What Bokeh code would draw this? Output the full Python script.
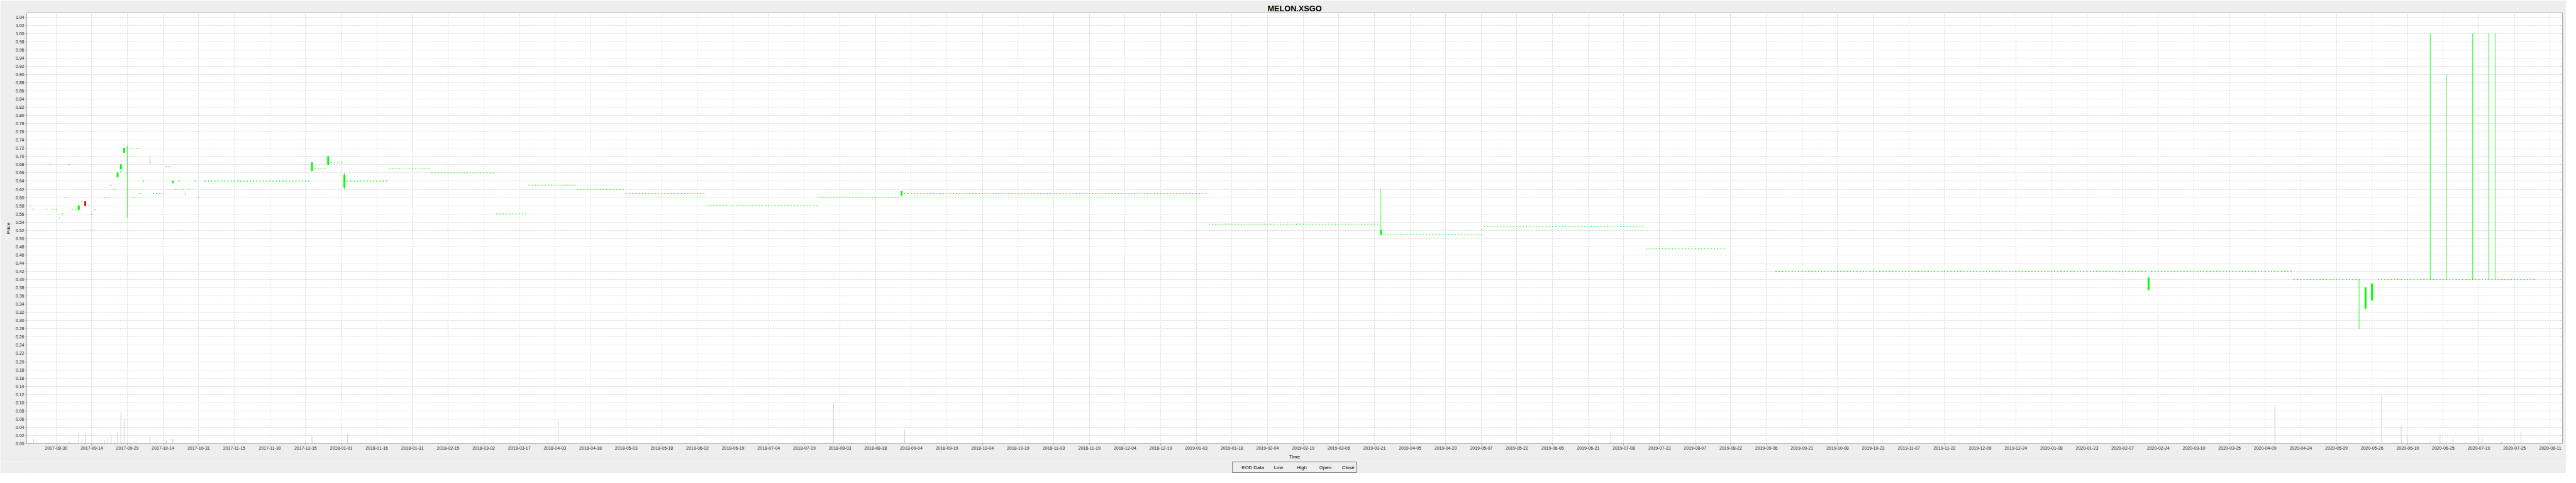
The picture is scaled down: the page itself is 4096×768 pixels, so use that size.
from bokeh.plotting import figure
from bokeh.layouts import column
from bokeh.models import Range1d, FixedTicker, PrintfTickFormatter, Legend, LegendItem, ColumnDataSource
from bokeh.embed import file_html
from bokeh.resources import INLINE

# ---------------- data (x = trading-day slot, tick k sits at slot 11*k) ----------------
tick_labels = ["2017-08-30","2017-09-14","2017-09-29","2017-10-14","2017-10-31","2017-11-15","2017-11-30","2017-12-15",
               "2018-01-01","2018-01-16","2018-01-31","2018-02-15","2018-03-02","2018-03-17","2018-04-03","2018-04-18",
               "2018-05-03","2018-05-18","2018-06-02","2018-06-19","2018-07-04","2018-07-19","2018-08-03","2018-08-18",
               "2018-09-04","2018-09-19","2018-10-04","2018-10-19","2018-11-03","2018-11-19","2018-12-04","2018-12-19",
               "2019-01-03","2019-01-18","2019-02-04","2019-02-19","2019-03-06","2019-03-21","2019-04-05","2019-04-20",
               "2019-05-07","2019-05-22","2019-06-06","2019-06-21","2019-07-08","2019-07-23","2019-08-07","2019-08-22",
               "2019-09-06","2019-09-21","2019-10-08","2019-10-23","2019-11-07","2019-11-22","2019-12-09","2019-12-24",
               "2020-01-08","2020-01-23","2020-02-07","2020-02-24","2020-03-10","2020-03-25","2020-04-09","2020-04-24",
               "2020-05-09","2020-05-26","2020-06-10","2020-06-25","2020-07-10","2020-07-25","2020-08-11"]

# single flat days (open = high = low = close)
dash_slot  = [-8, -7, -3, -2, -1, 0, 1, 2, 3, 4, 5, 6, 8, 10, 11, 12, 15, 16, 17, 18, 23, 24, 25, 26, 27,
              30, 31, 32, 33, 34, 35, 37, 38, 39, 40, 41, 43, 44, 46, 47, 48, 49, 50, 51]
dash_level = [0.58, 0.57, 0.57, 0.68, 0.57, 0.57, 0.55, 0.56, 0.60, 0.68, 0.57, 0.57, 0.59, 0.58, 0.56, 0.57,
              0.60, 0.60, 0.63, 0.62, 0.72, 0.60, 0.72, 0.61, 0.64, 0.61, 0.61, 0.61, 0.61, 0.675, 0.675,
              0.62, 0.64, 0.62, 0.61, 0.62, 0.64, 0.60, 0.64, 0.64, 0.64, 0.64, 0.64, 0.64]

# runs of flat days held at one level (start slot, end slot, level)
run_start = [52, 80, 85, 90, 103, 116, 136, 146, 161, 176, 201, 236, 262, 356, 410, 441, 491, 531, 647, 691, 717, 734, 739, 747, 752, 754]
run_end   = [78, 83, 88, 102, 115, 135, 145, 160, 175, 200, 235, 260, 355, 408, 440, 490, 515, 645, 690, 710, 732, 737, 745, 750, 752, 765]
run_level = [0.64, 0.67, 0.685, 0.64, 0.67, 0.66, 0.56, 0.63, 0.62, 0.61, 0.58, 0.60, 0.61, 0.535, 0.51, 0.53, 0.475, 0.42, 0.42, 0.40, 0.40, 0.40, 0.40, 0.40, 0.40, 0.40]

# candles with a body or a wick
c_slot  = [7, 9, 19, 20, 21, 22, 29, 36, 79, 84, 89, 261, 409, 646, 711, 713, 715, 733, 738, 746, 751, 753]
c_open  = [0.57, 0.59, 0.65, 0.67, 0.71, 0.72, 0.685, 0.636, 0.665, 0.68, 0.625, 0.605, 0.51, 0.375, 0.40, 0.33, 0.35, 0.40, 0.40, 0.40, 0.40, 0.40]
c_high  = [0.58, 0.59, 0.66, 0.68, 0.72, 0.7265, 0.70, 0.64, 0.685, 0.70, 0.66, 0.615, 0.62, 0.405, 0.40, 0.38, 0.39, 1.00, 0.90, 1.00, 1.00, 1.00]
c_low   = [0.57, 0.58, 0.65, 0.66, 0.71, 0.551, 0.685, 0.636, 0.665, 0.68, 0.62, 0.605, 0.51, 0.375, 0.28, 0.33, 0.35, 0.40, 0.40, 0.40, 0.40, 0.40]
c_close = [0.58, 0.58, 0.66, 0.68, 0.72, 0.72, 0.685, 0.64, 0.685, 0.70, 0.655, 0.615, 0.52, 0.405, 0.40, 0.38, 0.39, 0.40, 0.40, 0.40, 0.40, 0.40]

# volume bars (drawn on the price scale)
vol_slot  = [-8, -7, -2, 4, 7, 8, 9, 10, 15, 16, 17, 18, 19, 20, 21, 22, 23, 25, 29, 34, 35, 36,
             79, 90, 155, 240, 262, 480, 685, 718, 720, 724, 726, 727, 729, 733, 736, 738, 740, 744, 746, 748, 749, 751, 753, 755, 761]
vol_value = [0.0028, 0.0132, 0.0036, 0.0053, 0.0281, 0.0132, 0.026, 0.002, 0.0082, 0.0156, 0.021, 0.0046, 0.0274, 0.0761, 0.060, 0.0036, 0.0025, 0.0036, 0.0202, 0.0085, 0.0014, 0.0132,
             0.02, 0.025, 0.055, 0.10, 0.035, 0.03, 0.09, 0.12, 0.002, 0.0441, 0.0185, 0.0036, 0.0028, 0.0046, 0.026, 0.0046, 0.0124, 0.0046, 0.0014, 0.0174, 0.0132, 0.002, 0.0032, 0.0046, 0.0292]

legend_labels = ["EOD Data", "Low", "High", "Open", "Close"]

# ---------------- assemble candles ----------------
xs, o, h, l, c = [], [], [], [], []
taken = set(c_slot) | set(dash_slot)
for s, v in zip(dash_slot, dash_level):
    xs.append(s); o.append(v); h.append(v); l.append(v); c.append(v)
for a, b, v in zip(run_start, run_end, run_level):
    for s in range(a, b + 1):
        if s in taken:
            continue
        xs.append(s); o.append(v); h.append(v); l.append(v); c.append(v)
for s, oo, hh, ll, cc in zip(c_slot, c_open, c_high, c_low, c_close):
    xs.append(s); o.append(oo); h.append(hh); l.append(ll); c.append(cc)

UP, DOWN, WICK = "#00FF00", "#FF0000", "#33FF33"
src = ColumnDataSource(dict(
    x=xs, open=o, high=h, low=l, close=c,
    top=[max(a, b) for a, b in zip(o, c)],
    bottom=[min(a, b) for a, b in zip(o, c)],
    color=[DOWN if cc < oo else UP for oo, cc in zip(o, c)],
))
wsrc = ColumnDataSource(dict(
    x=[x for x, hh, ll in zip(xs, h, l) if hh > ll],
    high=[hh for hh, ll in zip(h, l) if hh > ll],
    low=[ll for hh, ll in zip(h, l) if hh > ll],
))

# ---------------- main figure ----------------
W, H, HL = 4080, 752, 18
FONT = "Liberation Sans"
BG = "#EEEEEE"
p = figure(width=W, height=H - HL, output_backend="svg", toolbar_location=None,
           x_range=Range1d(-9.07, 773.8), y_range=Range1d(0, 1.05),
           min_border_left=42, min_border_right=6, min_border_top=20, min_border_bottom=29,
           background_fill_color="white", border_fill_color=BG)
p.outline_line_color = "#A8A8A8"
p.outline_line_width = 1

p.title.text = "MELON.XSGO"
p.title.align = "center"
p.title.text_font = FONT
p.title.text_font_style = "bold"
p.title.text_font_size = "12.7px"
p.title.text_color = "black"
p.title.standoff = 0
p.title.offset = 0

xt = [11 * k for k in range(len(tick_labels))]
p.xaxis.ticker = FixedTicker(ticks=xt)
p.xaxis.major_label_overrides = {t: lab for t, lab in zip(xt, tick_labels)}
p.xgrid.ticker = FixedTicker(ticks=xt)
yt = [round(0.02 * i, 2) for i in range(53)]
p.yaxis.ticker = FixedTicker(ticks=yt)
p.ygrid.ticker = FixedTicker(ticks=yt)
p.yaxis.formatter = PrintfTickFormatter(format="%.2f")

for ax in (p.xaxis[0], p.yaxis[0]):
    ax.axis_line_color = None
    ax.major_tick_in = 0
    ax.major_tick_out = 2
    ax.major_tick_line_color = "#A0A0A0"
    ax.minor_tick_line_color = None
    ax.major_label_text_font = FONT
    ax.major_label_text_font_size = "7px"
    ax.major_label_text_color = "#222222"
    ax.major_label_standoff = 2
    ax.axis_label_text_font = FONT
    ax.axis_label_text_font_size = "8px"
    ax.axis_label_text_font_style = "normal"
    ax.axis_label_text_color = "black"
    ax.axis_label_standoff = 4
p.xaxis.axis_label = "Time"
p.yaxis.axis_label = "Price"

p.grid.grid_line_color = "#D4D4D4"
p.grid.grid_line_dash = "2 2"
p.grid.grid_line_width = 1

p.vbar(x=vol_slot, width=0.22, top=vol_value, bottom=0, fill_color="#D2D2D2", line_color=None)
p.segment(x0="x", y0="low", x1="x", y1="high", source=wsrc, line_color=WICK, line_width=1)
p.vbar(x="x", width=0.32, top="top", bottom="bottom", source=src,
       fill_color="color", line_color="color", line_width=1.3)

# ---------------- legend strip ----------------
q = figure(width=W, height=HL, output_backend="svg", toolbar_location=None,
           x_range=Range1d(0, 1), y_range=Range1d(0, 1),
           x_axis_location=None, y_axis_location=None,
           min_border_left=0, min_border_right=0, min_border_top=0, min_border_bottom=0,
           background_fill_color=BG, border_fill_color=BG)
q.outline_line_color = None
q.grid.visible = False
r_eod = q.scatter(x=[], y=[], marker="square", size=5, fill_color="#FF5555", line_color="#FF5555")
r_low = q.line(x=[], y=[], line_color="#5555FF", line_width=1)
r_high = q.line(x=[], y=[], line_color="#55FF55", line_width=1)
r_open = q.line(x=[], y=[], line_color="#FFFF55", line_width=1)
r_close = q.line(x=[], y=[], line_color="#FF55FF", line_width=1)
legend = Legend(items=[LegendItem(label=lab, renderers=[r]) for lab, r in
                       zip(legend_labels, [r_eod, r_low, r_high, r_open, r_close])],
                orientation="horizontal", location="center",
                label_text_font=FONT, label_text_font_size="7.8px", label_text_color="black",
                glyph_width=9, glyph_height=12, label_height=12, label_standoff=3,
                spacing=4, padding=2, margin=0,
                border_line_color="black", border_line_width=1,
                background_fill_color=BG, background_fill_alpha=1)
q.add_layout(legend, "center")

page = column(p, q, spacing=0)
open("out.html", "w").write(file_html(page, INLINE))
